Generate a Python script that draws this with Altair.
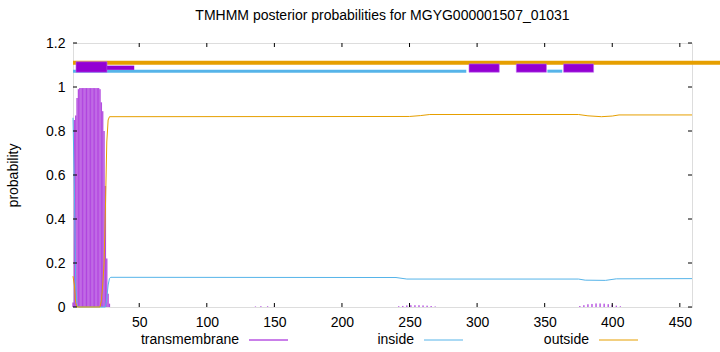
import altair as alt
import pandas as pd

# ---- data ----
seq_len = 459

# transmembrane posterior (impulses)
tm_res = list(range(1, 31)) + [136, 140, 145, 150,
          242, 245, 248, 251, 254, 257, 260, 263, 266, 269,
          376, 379, 382, 385, 388, 391, 394, 397, 400, 403, 406]
tm_val = [0.02, 0.85, 0.87, 0.95, 0.99, 0.995, 0.995, 0.995, 0.995, 0.995,
          0.995, 0.995, 0.995, 0.995, 0.995, 0.995, 0.995, 0.995, 0.995, 0.995,
          0.99, 0.93, 0.89, 0.80, 0.55, 0.22, 0.06, 0.015, 0.0, 0.0,
          0.002, 0.003, 0.003, 0.002,
          0.003, 0.005, 0.007, 0.008, 0.008, 0.008, 0.007, 0.006, 0.004, 0.002,
          0.004, 0.008, 0.012, 0.014, 0.016, 0.016, 0.015, 0.013, 0.01, 0.006, 0.003]

# inside posterior (breakpoints)
in_res = [1, 2, 3, 4, 5, 25, 26, 27, 28, 29, 240, 248, 375, 380, 395, 403, 459]
in_val = [0.86, 0.55, 0.10, 0.01, 0.0, 0.0, 0.04, 0.10, 0.13, 0.135, 0.134, 0.127,
          0.127, 0.122, 0.121, 0.128, 0.129]

# outside posterior (breakpoints)
out_res = [1, 2, 3, 4, 21, 22, 23, 24, 25, 26, 27, 28, 250, 258, 265, 375, 382, 392, 400, 405, 459]
out_val = [0.14, 0.10, 0.02, 0.0, 0.0, 0.03, 0.10, 0.20, 0.45, 0.75, 0.85, 0.865,
           0.866, 0.870, 0.875, 0.875, 0.869, 0.865, 0.868, 0.873, 0.873]

# top topology bars
tm_box_start = [3.2, 294, 329, 364]
tm_box_end = [26.2, 316.4, 351.3, 386.2]
tm_box_low = [1.067, 1.067, 1.067, 1.067]
tm_box_high = [1.115, 1.105, 1.105, 1.105]
tm_thin_start = [26.2]
tm_thin_end = [46.3]
inside_seg_start = [1, 352]
inside_seg_end = [292, 363]
outside_seg_start = [1]
outside_seg_end = [520]

x_ticks = [50, 100, 150, 200, 250, 300, 350, 400, 450]
y_ticks = [0, 0.2, 0.4, 0.6, 0.8, 1.0, 1.2]

legend_labels = ["transmembrane", "inside", "outside"]

C_TM = "#9400D3"
C_IN = "#56B4E9"
C_OUT = "#E69F00"
FONT = "Liberation Sans"

W, H = 619, 264

xs = alt.Scale(domain=[1, seq_len], nice=False, zero=False)
ys = alt.Scale(domain=[0, 1.2], nice=False)

tm_df = pd.DataFrame({"res": tm_res, "p": tm_val})
tm_df["x0"] = tm_df["res"] - 0.5
tm_df["x1"] = tm_df["res"] + 0.5
in_df = pd.DataFrame({"res": in_res, "p": in_val})
out_df = pd.DataFrame({"res": out_res, "p": out_val})

base_x = alt.X("res:Q", scale=xs,
               axis=alt.Axis(values=x_ticks, ticks=False, grid=False, domain=False,
                             labelFont=FONT, labelFontSize=14, labelColor="black",
                             labelPadding=8, title=None))
base_y = alt.Y("p:Q", scale=ys,
               axis=alt.Axis(values=y_ticks, ticks=False, grid=False, domain=False,
                             format="~g", labelFont=FONT, labelFontSize=14,
                             labelColor="black", labelPadding=8,
                             title="probability", titleFont=FONT, titleFontSize=14,
                             titleFontWeight="normal", titleColor="black",
                             titlePadding=25))

tm_bars = alt.Chart(tm_df).mark_bar(color=C_TM, opacity=0.45).encode(
    x=base_x, x2="x1:Q", y=base_y, y2=alt.datum(0)
).transform_calculate(res="datum.x0")

tm_rules = alt.Chart(tm_df).mark_rule(color=C_TM, strokeWidth=0.6, opacity=0.85).encode(
    x=alt.X("res:Q", scale=xs), y=alt.Y("p:Q", scale=ys), y2=alt.datum(0)
)

in_line = alt.Chart(in_df).mark_line(color=C_IN, strokeWidth=1).encode(
    x=alt.X("res:Q", scale=xs), y=alt.Y("p:Q", scale=ys)
)
out_line = alt.Chart(out_df).mark_line(color=C_OUT, strokeWidth=1).encode(
    x=alt.X("res:Q", scale=xs), y=alt.Y("p:Q", scale=ys)
)

out_bar = alt.Chart(pd.DataFrame({"a": outside_seg_start, "b": outside_seg_end})).mark_rule(
    color=C_OUT, strokeWidth=4, clip=False).encode(
    x=alt.X("a:Q", scale=xs), x2="b:Q", y=alt.datum(1.11))
in_bar = alt.Chart(pd.DataFrame({"a": inside_seg_start, "b": inside_seg_end})).mark_rule(
    color=C_IN, strokeWidth=3).encode(
    x=alt.X("a:Q", scale=xs), x2="b:Q", y=alt.datum(1.072))
tm_boxes = alt.Chart(pd.DataFrame({"a": tm_box_start, "b": tm_box_end,
                                   "lo": tm_box_low, "hi": tm_box_high})).mark_rect(
    color=C_TM, stroke="#c070f0", strokeWidth=0.6).encode(
    x=alt.X("a:Q", scale=xs), x2="b:Q", y=alt.Y("lo:Q", scale=ys), y2="hi:Q")
tm_thin = alt.Chart(pd.DataFrame({"a": tm_thin_start, "b": tm_thin_end})).mark_rect(
    color=C_TM).encode(
    x=alt.X("a:Q", scale=xs), x2="b:Q", y=alt.datum(1.078), y2=alt.datum(1.097))

# inward tick marks (gnuplot style) on all four sides
xt = pd.DataFrame({"t": x_ticks})
yt = pd.DataFrame({"t": y_ticks})
tick_bottom = alt.Chart(xt).mark_rule(color="black").encode(
    x=alt.X("t:Q", scale=xs), y=alt.value(H), y2=alt.value(H - 4))
tick_top = alt.Chart(xt).mark_rule(color="black").encode(
    x=alt.X("t:Q", scale=xs), y=alt.value(0), y2=alt.value(4))
tick_left = alt.Chart(yt).mark_rule(color="black").encode(
    y=alt.Y("t:Q", scale=ys), x=alt.value(0), x2=alt.value(4))
tick_right = alt.Chart(yt).mark_rule(color="black").encode(
    y=alt.Y("t:Q", scale=ys), x=alt.value(W), x2=alt.value(W - 4))

# legend
leg_text_right = [166, 341, 516]
leg_line_from = [176, 351, 526]
leg_line_to = [215, 390, 565]
leg_colors = [C_TM, C_IN, C_OUT]
legend_layers = []
for lab, tx, l0, l1, col in zip(legend_labels, leg_text_right, leg_line_from, leg_line_to, leg_colors):
    d = pd.DataFrame({"label": [lab]})
    legend_layers.append(alt.Chart(d).mark_text(
        align="right", baseline="middle", font=FONT, fontSize=14, color="black").encode(
        x=alt.value(tx), y=alt.value(H + 33), text="label:N"))
    legend_layers.append(alt.Chart(d).mark_rule(color=col, strokeWidth=1).encode(
        x=alt.value(l0), x2=alt.value(l1), y=alt.value(H + 33)))

chart = alt.layer(
    tm_bars, tm_rules, in_line, out_line, out_bar, in_bar, tm_boxes, tm_thin,
    tick_bottom, tick_top, tick_left, tick_right, *legend_layers
).properties(
    width=W, height=H,
    title=alt.TitleParams("TMHMM posterior probabilities for MGYG000001507_01031",
                          font=FONT, fontSize=14, fontWeight="normal", color="black",
                          anchor="middle", offset=13),
    autosize=alt.AutoSizeParams(type="none"),
    padding={"left": 73, "top": 43, "right": 28, "bottom": 45},
).configure_view(stroke="black", strokeWidth=1).configure(background="white")

chart.save("out.html", embed_options={"renderer": "svg", "actions": False})
